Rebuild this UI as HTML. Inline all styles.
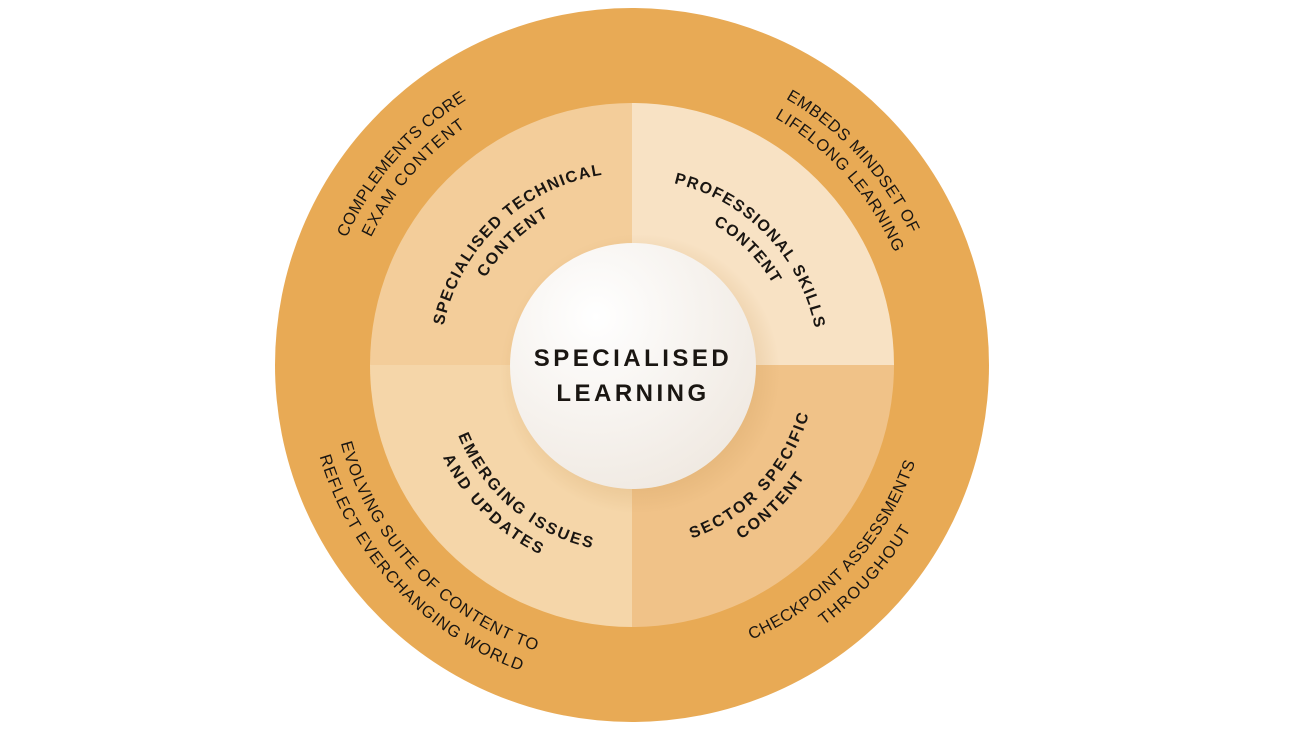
<!DOCTYPE html>
<html><head><meta charset="utf-8"><style>
html,body{margin:0;padding:0;background:#fff;width:1293px;height:730px;overflow:hidden}
svg{display:block}
.o{font-family:"Liberation Sans",sans-serif;font-size:16.5px;fill:#1a1612}
.b{font-family:"Liberation Sans",sans-serif;font-size:16px;font-weight:bold;fill:#1a1612}
.c{font-family:"Liberation Sans",sans-serif;font-size:24px;font-weight:bold;fill:#1a1612;letter-spacing:3.5px}
</style></head><body>
<svg id="s" width="1293" height="730" viewBox="0 0 1293 730" xmlns="http://www.w3.org/2000/svg">
<defs>
<radialGradient id="cg" cx="0.35" cy="0.3" r="0.8">
<stop offset="0" stop-color="#ffffff"/><stop offset="1" stop-color="#efe8e0"/>
</radialGradient>
<radialGradient id="sh" cx="0.5" cy="0.5" r="0.5">
<stop offset="0.7" stop-color="#c99a5a" stop-opacity="0.35"/><stop offset="1" stop-color="#c99a5a" stop-opacity="0"/>
</radialGradient>
</defs>
<circle cx="632" cy="365" r="357" fill="#e8aa55"/>
<path d="M632 365 L370 365 A262 262 0 0 1 632 103 Z" fill="#f3cd9a"/>
<path d="M632 365 L632 103 A262 262 0 0 1 894 365 Z" fill="#f8e2c4"/>
<path d="M632 365 L894 365 A262 262 0 0 1 632 627 Z" fill="#f0c288"/>
<path d="M632 365 L632 627 A262 262 0 0 1 370 365 Z" fill="#f5d6a9"/>
<circle cx="640" cy="374" r="140" fill="url(#sh)"/>
<circle cx="633" cy="366" r="123" fill="url(#cg)"/>
<text class="c" x="633" y="366" text-anchor="middle">SPECIALISED</text>
<text class="c" x="633" y="401" text-anchor="middle">LEARNING</text>
<g id="g"></g>
</svg>
<script>
var cx=632,cy=365,NS="http://www.w3.org/2000/svg";
var items=[
["SPECIALISED TECHNICAL",191.8,261,198,1],
["CONTENT",210.7,240.6,176,1],
["PROFESSIONAL SKILLS",283,348.5,192,1],
["CONTENT",300,330,168,1],
["EMERGING ISSUES",158,102.5,182,1],
["AND UPDATES",154,116,205,1],
["SECTOR SPECIFIC",71,15.7,178,1],
["CONTENT",58,33,200,1],
["COMPLEMENTS CORE",204,238,318,0],
["EXAM CONTENT",206,235,296,0],
["EMBEDS MINDSET OF",300,334.7,313,0],
["LIFELONG LEARNING",300,336.8,291,0],
["EVOLVING SUITE OF CONTENT TO",165,108.6,296,0],
["REFLECT EVERCHANGING WORLD",163.7,110,320,0],
["CHECKPOINT ASSESSMENTS",66.5,19,294,0],
["THROUGHOUT",53.6,30.5,318,0]
];
var g=document.getElementById("g"),d=document.querySelector("defs");
items.forEach(function(it,i){
 var a1=it[1],a2=it[2],top=a2>a1,r=top?it[3]-5.5:it[3]+5.5;
 var p1=[cx+r*Math.cos(a1*Math.PI/180),cy+r*Math.sin(a1*Math.PI/180)];
 var p2=[cx+r*Math.cos(a2*Math.PI/180),cy+r*Math.sin(a2*Math.PI/180)];
 var path=document.createElementNS(NS,"path");
 path.setAttribute("id","p"+i);
 path.setAttribute("d","M"+p1[0]+" "+p1[1]+" A"+r+" "+r+" 0 0 "+(top?1:0)+" "+p2[0]+" "+p2[1]);
 d.appendChild(path);
 var len=r*Math.abs(a2-a1)*Math.PI/180;
 var t=document.createElementNS(NS,"text");
 t.setAttribute("class",it[4]?"b":"o");
 var tp=document.createElementNS(NS,"textPath");
 tp.setAttribute("href","#p"+i);
 tp.setAttributeNS("http://www.w3.org/1999/xlink","xlink:href","#p"+i);
 tp.setAttribute("textLength",len.toFixed(1));
 tp.setAttribute("lengthAdjust","spacing");
 tp.textContent=it[0];
 t.appendChild(tp);g.appendChild(t);
});
</script>
</body></html>
